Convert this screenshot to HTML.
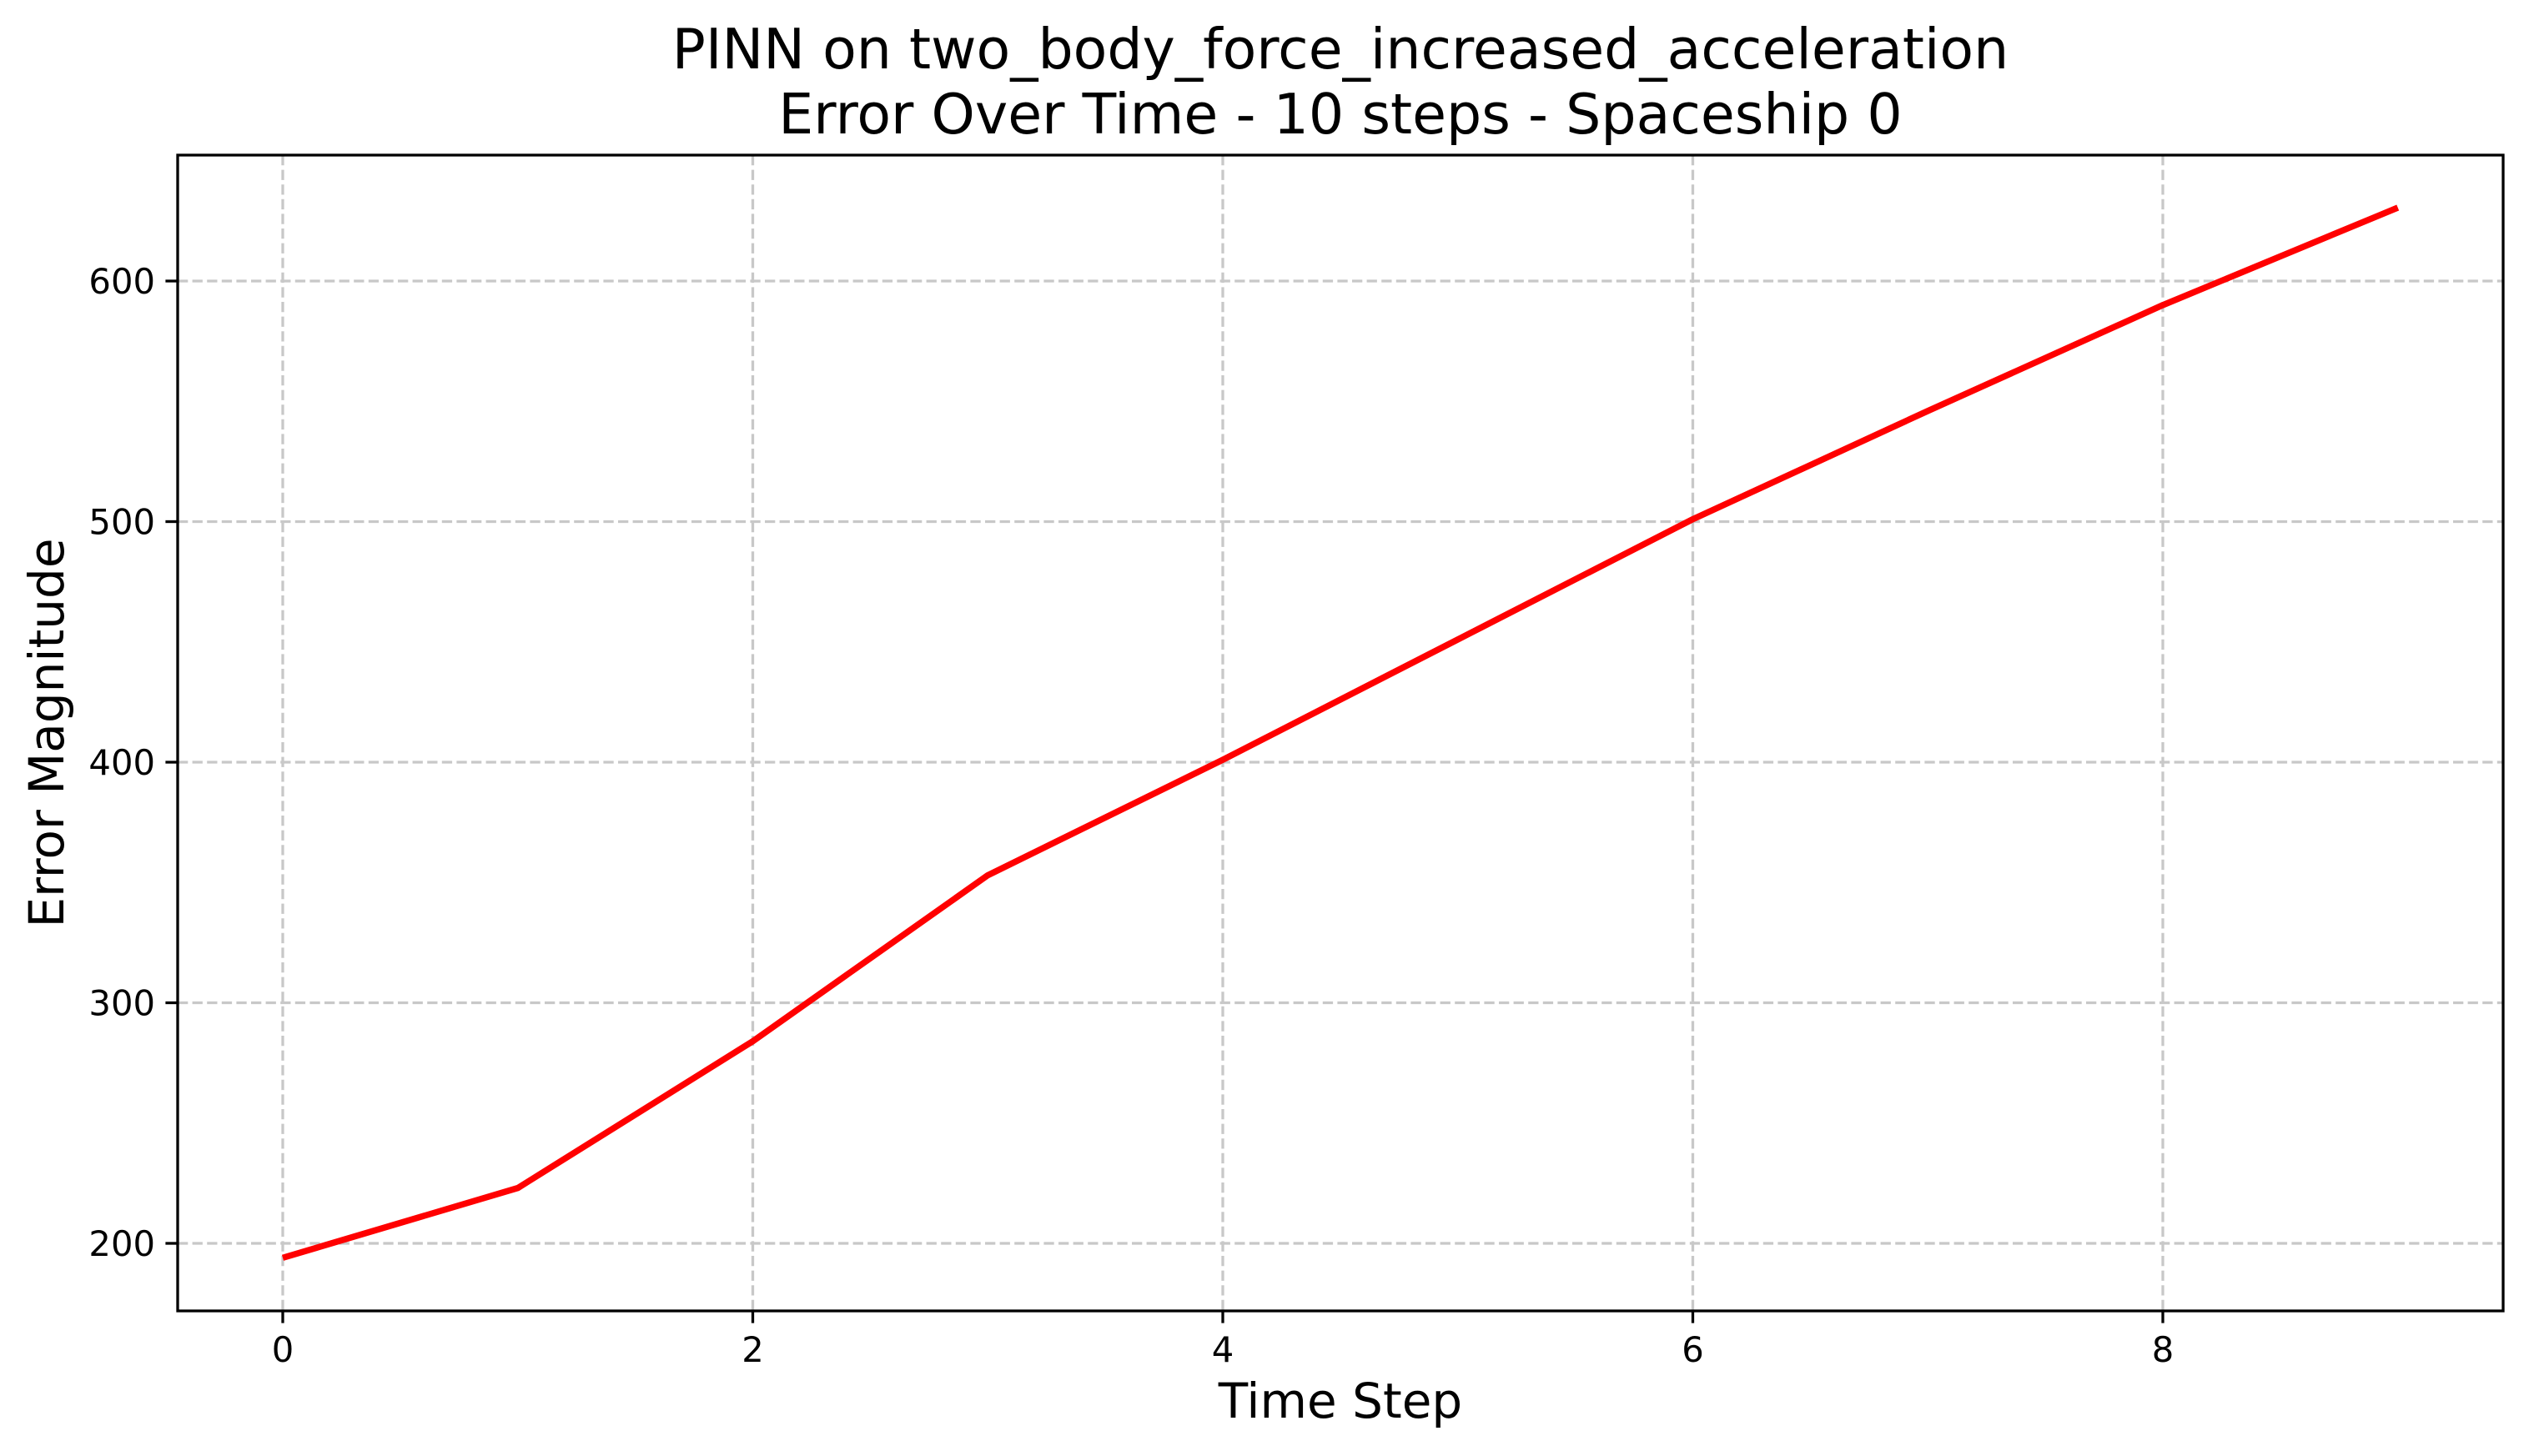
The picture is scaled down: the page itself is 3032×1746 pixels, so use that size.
<!DOCTYPE html>
<html><head><meta charset="utf-8"><style>
html,body{margin:0;padding:0;background:#fff;}
svg{display:block;font-family:"DejaVu Sans","Liberation Sans",sans-serif;}
</style></head><body>
<svg id="chart" width="3032" height="1746" viewBox="0 0 3032 1746" xmlns="http://www.w3.org/2000/svg">
<rect width="3032" height="1746" fill="#fff"/>
<text x="1607" y="82" font-size="66.5" text-anchor="middle">PINN on two_body_force_increased_acceleration</text>
<text x="1607" y="160" font-size="66.5" text-anchor="middle">Error Over Time - 10 steps - Spaceship 0</text>
<g id="grid"></g>
<g id="ticks"></g>
<polyline id="series" fill="none" stroke="#ff0000" stroke-width="7.5" stroke-linejoin="round"/>
<rect x="213" y="186" width="2788" height="1386" fill="none" stroke="#000" stroke-width="3.3"/>
<text x="1607" y="1700" font-size="58" text-anchor="middle">Time Step</text>
<text transform="translate(76,879) rotate(-90)" font-size="58" text-anchor="middle">Error Magnitude</text>
</svg>
<script>
const steps = [0,1,2,3,4,5,6,7,8,9];
const errors = [194,223,284,353,401,451,501,546,590,630.5];
const xTicks = [0,2,4,6,8];
const yTicks = [200,300,400,500,600];

const L=213,R=3001,T=186,B=1572;
function xs(v){return 339 + v*281.75;}
function ys(v){return 1491 - (v-200)*2.885;}
const NS="http://www.w3.org/2000/svg";
const grid=document.getElementById('grid');
const ticks=document.getElementById('ticks');
function mk(tag,attrs,parent){const e=document.createElementNS(NS,tag);for(const k in attrs)e.setAttribute(k,attrs[k]);parent.appendChild(e);return e;}
xTicks.forEach(v=>{
  const x=xs(v);
  const g=mk('line',{x1:x,x2:x,y1:T,y2:B,stroke:'#c8c8c8','stroke-width':3.3,'stroke-dasharray':'12.3,5.3'},grid);
  
  
  const t=mk('line',{x1:x,x2:x,y1:B,y2:B+14.6,stroke:'#000','stroke-width':3.3},ticks);
  
  
  const l=mk('text',{x:x,y:B+61,'font-size':41.7,'text-anchor':'middle'},ticks);
  l.textContent=v;
  
  
});
yTicks.forEach(v=>{
  const y=ys(v);
  const g=mk('line',{x1:L,x2:R,y1:y,y2:y,stroke:'#c8c8c8','stroke-width':3.3,'stroke-dasharray':'12.3,5.3'},grid);
  
  
  const t=mk('line',{x1:L-14.6,x2:L,y1:y,y2:y,stroke:'#000','stroke-width':3.3},ticks);
  
  
  const l=mk('text',{x:L-27,y:y+15,'font-size':41.7,'text-anchor':'end'},ticks);
  l.textContent=v;
  
  
});
document.getElementById('series').setAttribute('points',steps.map((s,i)=>xs(s)+','+ys(errors[i])).join(' '));
</script>
</body></html>
